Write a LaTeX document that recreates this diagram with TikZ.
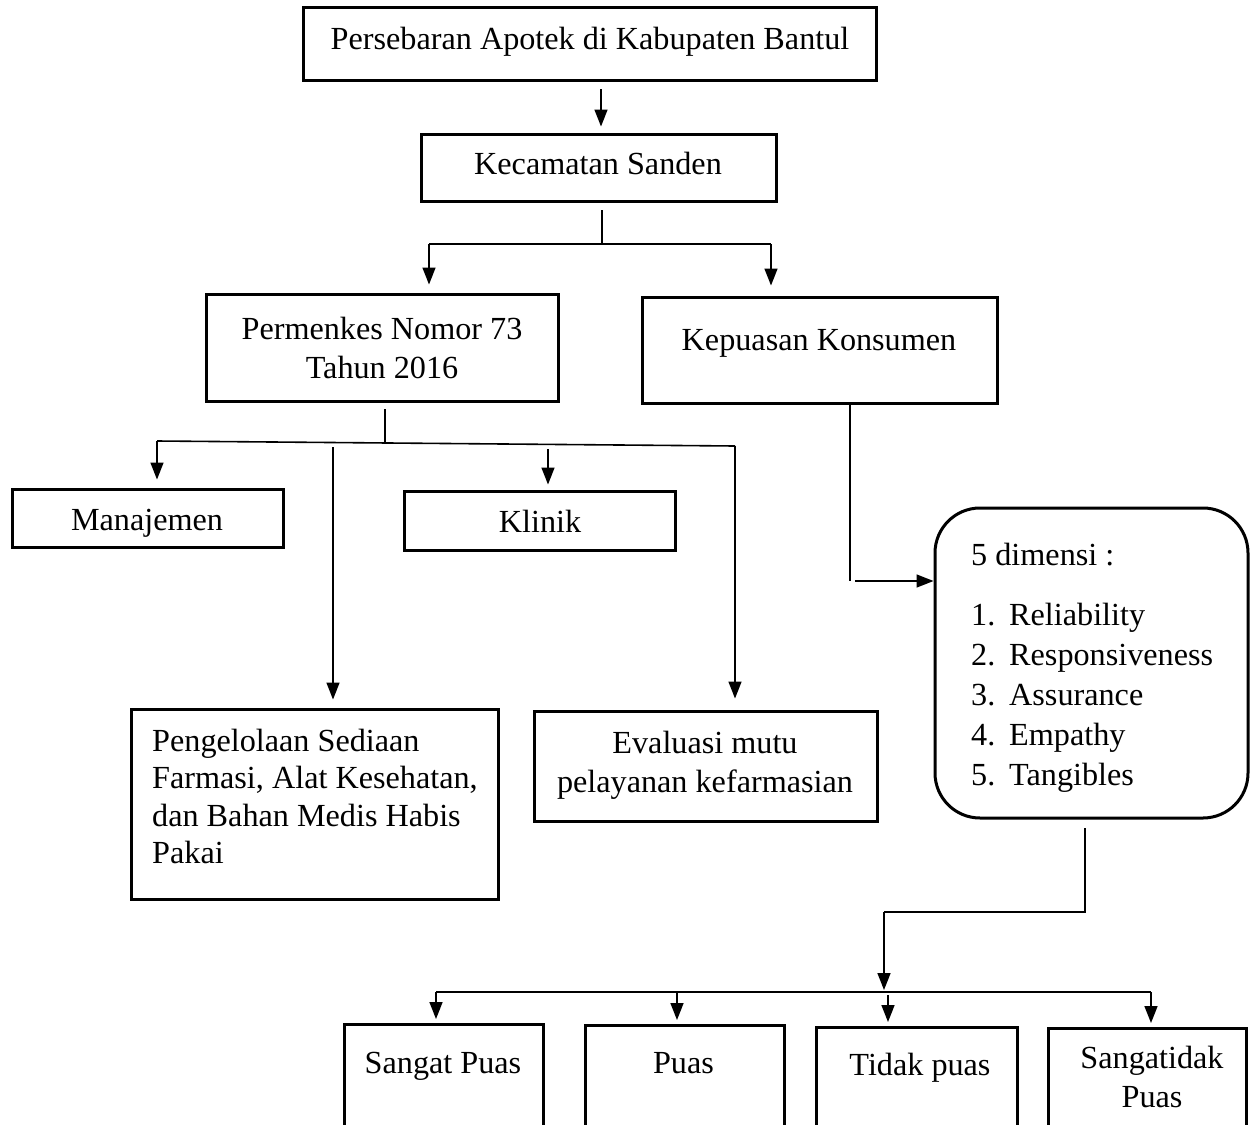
\documentclass[tikz,border=0pt]{standalone}
\usepackage{fontspec}
\setmainfont{Liberation Serif}
\usetikzlibrary{arrows.meta,calc}
\begin{document}
\begin{tikzpicture}[x=1pt,y=-1pt,
  box/.style={draw, line width=3pt, inner sep=0pt},
  rbox/.style={draw, line width=3pt, inner sep=0pt, rounded corners=45pt},
  txt/.style={inner sep=0pt, font=\fontsize{32.2}{38}\selectfont},
  con/.style={line width=1.6pt},
  arr/.style={con, -{Triangle[length=17pt,width=13pt]}}]
\path[use as bounding box] (0,0) rectangle (1255,1124);
\clip (0,0) rectangle (1255,1124);

% boxes
\node[box, minimum width=573pt, minimum height=72pt] (top) at (589.5,44) {};
\node[box, minimum width=355pt, minimum height=67pt] (kec) at (598.5,167.5) {};
\node[box, minimum width=352pt, minimum height=107pt] (perm) at (382,347.5) {};
\node[box, minimum width=355pt, minimum height=106pt] (kep) at (819.5,350) {};
\node[box, minimum width=271pt, minimum height=58pt] (man) at (147.5,518) {};
\node[box, minimum width=271pt, minimum height=59pt] (kli) at (539.5,520.5) {};
\node[box, minimum width=367pt, minimum height=190pt] (peng) at (314.5,804) {};
\node[box, minimum width=343pt, minimum height=110pt] (eval) at (705.5,766) {};
\node[rbox, minimum width=313pt, minimum height=310pt] (dim) at (1091.5,663) {};
\node[box, minimum width=199pt, minimum height=180pt, anchor=north] (sp) at (443.5,1023) {};
\node[box, minimum width=199pt, minimum height=180pt, anchor=north] (pu) at (684.5,1024) {};
\node[box, minimum width=201pt, minimum height=180pt, anchor=north] (tp) at (916.5,1026) {};
\node[box, minimum width=198pt, minimum height=180pt, anchor=north] (st) at (1147,1027) {};

% texts
\node[txt, anchor=base] (topT) at (590,50) {Persebaran Apotek di Kabupaten Bantul};
\node[txt, anchor=base] (kecT) at (598,174) {Kecamatan Sanden};
\node[txt, anchor=base] (perm1) at (382,339) {Permenkes Nomor 73};
\node[txt, anchor=base] (perm2) at (382,378) {Tahun 2016};
\node[txt, anchor=base] (kepT) at (819,350) {Kepuasan Konsumen};
\node[txt, anchor=base] (manT) at (147,530) {Manajemen};
\node[txt, anchor=base] (kliT) at (540,532) {Klinik};
\node[txt, anchor=base west] (peng1) at (152,751) {Pengelolaan Sediaan};
\node[txt, anchor=base west] (peng2) at (152,788.5) {Farmasi, Alat Kesehatan,};
\node[txt, anchor=base west] (peng3) at (152,826) {dan Bahan Medis Habis};
\node[txt, anchor=base west] (peng4) at (152,863.5) {Pakai};
\node[txt, anchor=base] (eval1) at (705,753) {Evaluasi mutu};
\node[txt, anchor=base] (eval2) at (705,792) {pelayanan kefarmasian};
\node[txt, anchor=base west] (dim0) at (971,565) {5 dimensi :};
\node[txt, anchor=base west] (dim1) at (971,625) {\makebox[38pt][l]{1.}Reliability};
\node[txt, anchor=base west] (dim2) at (971,665) {\makebox[38pt][l]{2.}Responsiveness};
\node[txt, anchor=base west] (dim3) at (971,705) {\makebox[38pt][l]{3.}Assurance};
\node[txt, anchor=base west] (dim4) at (971,745) {\makebox[38pt][l]{4.}Empathy};
\node[txt, anchor=base west] (dim5) at (971,785) {\makebox[38pt][l]{5.}Tangibles};
\node[txt, anchor=base] (spT) at (443,1073) {Sangat Puas};
\node[txt, anchor=base] (puT) at (683.5,1073) {Puas};
\node[txt, anchor=base] (tpT) at (920,1075) {Tidak puas};
\node[txt, anchor=base] (stT1) at (1152,1068) {Sangatidak};
\node[txt, anchor=base] (stT2) at (1152,1107) {Puas};

% connectors: top -> kec
\coordinate (c1) at (601,89);
\draw[arr, shorten >=6pt] (c1) -- (c1 |- kec.north);

% kec -> perm, kep
\coordinate (c2) at (602,210);
\coordinate (c2b) at (602,244);
\coordinate (bl) at (429,244);
\coordinate (br) at (771,244);
\draw[con] (c2) -- (c2b);
\draw[con] (bl) -- (br);
\draw[arr, shorten >=8pt] (bl) -- (bl |- perm.north);
\draw[arr, shorten >=10pt] (br) -- (br |- kep.north);

% perm -> four
\coordinate (c3) at (385,409);
\coordinate (c3b) at (385,442);
\coordinate (hl) at (157,441);
\coordinate (hr) at (735,446);
\draw[con] (c3) -- (c3b);
\draw[con] (hl) -- (hr);
\coordinate (m0) at (157,441);
\coordinate (p0) at (333,447);
\coordinate (k0) at (548,449);
\coordinate (e0) at (735,446);
\draw[arr, shorten >=8pt] (m0) -- (m0 |- man.north);
\draw[arr, shorten >=8pt] (p0) -- (p0 |- peng.north);
\draw[arr, shorten >=5pt] (k0) -- (k0 |- kli.north);
\draw[arr, shorten >=11pt] (e0) -- (e0 |- eval.north);

% kep -> dim
\coordinate (k1) at (850,581);
\coordinate (k2) at (855,581);
\draw[con] (k1 |- kep.south) -- (k1);
\draw[arr] (k2) -- (k2 -| dim.west);

% dim -> bottom
\coordinate (d0) at (1085,828);
\coordinate (d1) at (1085,912);
\coordinate (d2) at (884,912);
\coordinate (d3) at (884,990);
\draw[con] (d0) -- (d1) -- (d2);
\draw[arr] (d2) -- (d3);
\coordinate (b1) at (436,992);
\coordinate (b2) at (677,992);
\coordinate (b3) at (888,995);
\coordinate (b4) at (1151,992);
\draw[line width=2.6pt] (b1) -- (b4);
\draw[arr, shorten >=4pt] (b1) -- (b1 |- sp.north);
\draw[arr, shorten >=4pt] (b2) -- (b2 |- pu.north);
\draw[arr, shorten >=4pt] (b3) -- (b3 |- tp.north);
\draw[arr, shorten >=4pt] (b4) -- (b4 |- st.north);
\end{tikzpicture}
\end{document}
